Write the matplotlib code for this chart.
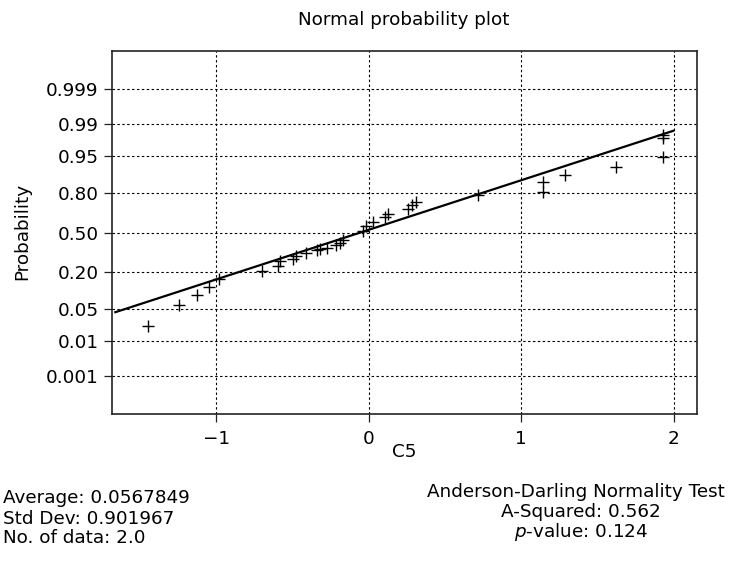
import matplotlib
matplotlib.use("Agg")
import matplotlib.pyplot as plt
import numpy as np
from statistics import NormalDist

# ---------------- data ----------------
c5_values = [-1.449, -1.246, -1.123, -1.044, -0.978, -0.698, -0.596, -0.580,
             -0.497, -0.475, -0.409, -0.339, -0.322, -0.274, -0.212, -0.190,
             -0.169, -0.037, -0.015, 0.031, 0.105, 0.125, 0.258, 0.287,
             0.311, 0.716, 1.142, 1.142, 1.287, 1.624, 1.930, 1.930, 1.930]
probabilities = [0.0220, 0.0590, 0.0888, 0.121, 0.161, 0.204, 0.234, 0.269,
                 0.288, 0.305, 0.330, 0.352, 0.365, 0.370, 0.392, 0.411,
                 0.434, 0.514, 0.554, 0.588, 0.631, 0.657, 0.690, 0.721,
                 0.745, 0.787, 0.809, 0.859, 0.891, 0.921, 0.948, 0.9787, 0.9823]

fit_x = [-1.661, 1.998]
fit_p = [0.0433, 0.9856]

prob_ticks = [0.001, 0.01, 0.05, 0.20, 0.50, 0.80, 0.95, 0.99, 0.999]
prob_tick_labels = ["0.001", "0.01", "0.05", "0.20", "0.50", "0.80", "0.95", "0.99", "0.999"]
x_ticks = [-1, 0, 1, 2]

title_text = "Normal probability plot"
x_label = "C5"
y_label = "Probability"
summary_lines = ["Average: 0.0567849", "Std Dev: 0.901967", "No. of data: 2.0"]
test_lines = ["Anderson-Darling Normality Test", "A-Squared: 0.562",
              r"$\mathit{p}$-value: 0.124"]

# ---------------- style ----------------
plt.rcParams["font.family"] = ["DejaVu Sans"]
plt.rcParams["mathtext.fontset"] = "dejavusans"
FS = 13.2

W, H = 740, 562
fig = plt.figure(figsize=(W / 100, H / 100), dpi=100)
L, R, T, B = 112, 697, 51, 414
ax = fig.add_axes([L / W, 1 - B / H, (R - L) / W, (B - T) / H])

# probit (normal probability) scale
_nd = NormalDist()
_ppf = np.vectorize(_nd.inv_cdf, otypes=[float])
_cdf = np.vectorize(_nd.cdf, otypes=[float])


def forward(p):
    p = np.clip(np.asarray(p, dtype=float), 1e-15, 1 - 1e-15)
    return _ppf(p)


def inverse(z):
    return _cdf(np.asarray(z, dtype=float))


ax.set_yscale("function", functions=(forward, inverse))

ax.plot(fit_x, fit_p, color="black", linewidth=1.6, zorder=3)
ax.plot(c5_values, probabilities, linestyle="none", marker="+",
        markersize=8, markeredgewidth=1.0, color="black", zorder=4)

ax.set_xlim(-1.683, 2.154)
ax.set_ylim(inverse(-3.903), inverse(3.903))
ax.set_xticks(x_ticks)
ax.set_yticks(prob_ticks)
ax.set_yticklabels(prob_tick_labels)
ax.minorticks_off()

ax.grid(True, color="black", linestyle=(0, (2.2, 2.2)), linewidth=0.8)
ax.set_axisbelow(True)
for s in ax.spines.values():
    s.set_color("#222222")
    s.set_linewidth(1.2)

ax.tick_params(axis="both", direction="out", length=5.7, width=0.9,
               color="#222222", labelsize=FS, pad=4)
ax.tick_params(axis="x", pad=6)

# texts
fig.text(404 / W, 1 - 25 / H, title_text, ha="center", va="baseline", fontsize=FS)
fig.text(404 / W, 1 - 457 / H, x_label, ha="center", va="baseline", fontsize=FS)
fig.text(22.5 / W, 1 - 231 / H, y_label, ha="center", va="center",
         rotation=90, fontsize=FS)

left_base = [503, 524, 543]
for txt, yb in zip(summary_lines, left_base):
    fig.text(3 / W, 1 - yb / H, txt, ha="left", va="baseline", fontsize=FS)

right_base = [497, 517, 537]
right_cx = [576, 581, 581]
for txt, xc, yb in zip(test_lines, right_cx, right_base):
    fig.text(xc / W, 1 - yb / H, txt, ha="center", va="baseline", fontsize=FS)

fig.savefig("out.png", dpi=100)
